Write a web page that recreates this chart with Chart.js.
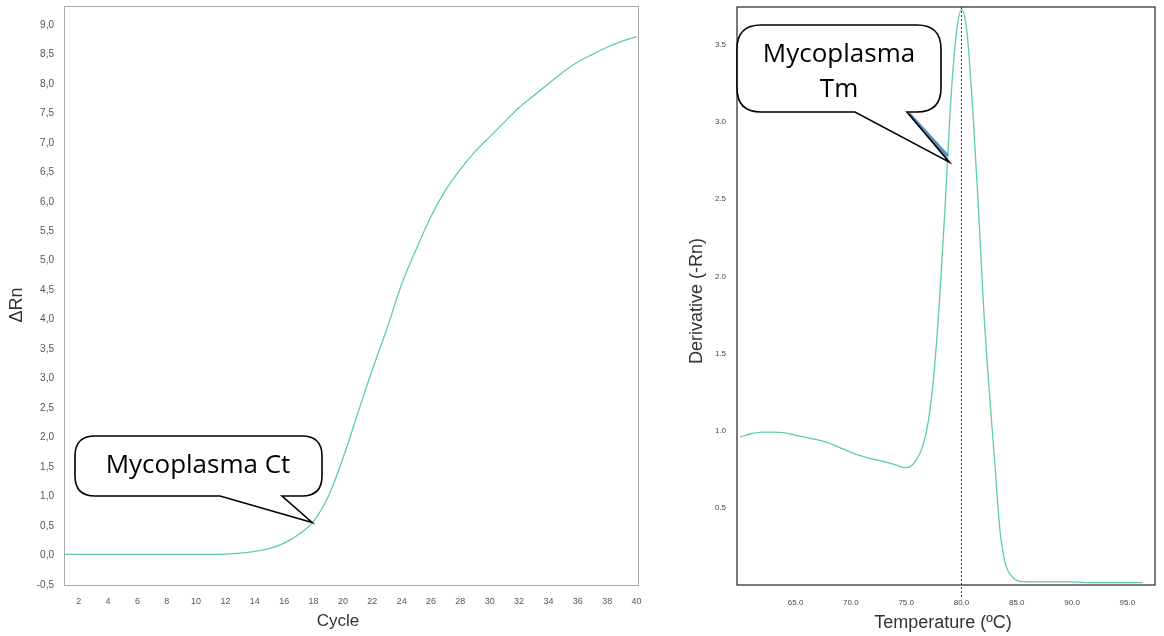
<!DOCTYPE html>
<html>
<head>
<meta charset="utf-8">
<script src="https://cdn.jsdelivr.net/npm/chart.js@4"></script>
<style>
  body { margin: 0; background: #fff; width: 1164px; height: 636px; overflow: hidden; position: relative; }
  canvas { position: absolute; top: 0; }
  #ampChart { left: 0; }
  #meltChart { left: 660px; }
</style>
</head>
<body>
<canvas id="ampChart" width="660" height="636"></canvas>
<canvas id="meltChart" width="504" height="636"></canvas>
<script>
// amplification plot (left)
var cycles = [1,2,3,4,5,6,7,8,9,10,11,12,13,14,15,16,17,18,19,20,21,22,23,24,25,26,27,28,29,30,31,32,33,34,35,36,37,38,39,40];
var deltaRn = [0.02,0.02,0.02,0.02,0.02,0.02,0.02,0.02,0.02,0.02,0.02,0.025,0.04,0.07,0.12,0.21,0.36,0.58,1.0,1.65,
               2.4,3.15,3.85,4.6,5.2,5.75,6.2,6.55,6.85,7.1,7.35,7.6,7.8,8.0,8.2,8.37,8.5,8.62,8.72,8.8];
var ctCycle = 17.9, ctValue = 0.56;

// melt curve (right)
var temps = [60,61,62,63,64,65,66,67,68,69,70,71,72,73,74,74.5,75,75.5,76,76.5,77,77.5,78,78.5,79,79.5,80,
             80.5,81,81.5,82,82.5,83,83.5,84,84.5,85,86,88,90,92,94,96.4];
var derivative = [0.96,0.98,0.99,0.99,0.985,0.97,0.955,0.94,0.92,0.89,0.86,0.835,0.815,0.80,0.78,0.765,0.76,0.775,0.82,0.90,
                  1.06,1.36,1.83,2.43,3.10,3.55,3.73,3.58,3.10,2.49,1.80,1.27,0.80,0.34,0.13,0.06,0.03,0.02,0.02,0.02,0.015,0.015,0.015];
var tmTemp = 80.0;
var tmTipTemp = 78.9, tmTipValue = 2.74;

var lineGreen = '#5fcf97';
var axisFont = 'Arial, "Liberation Sans"';

function bubble(ctx, x, y, w, h, r, t1, t2, tipX, tipY) {
  ctx.beginPath();
  ctx.moveTo(x + r, y);
  ctx.lineTo(x + w - r, y);
  ctx.quadraticCurveTo(x + w, y, x + w, y + r);
  ctx.lineTo(x + w, y + h - r);
  ctx.quadraticCurveTo(x + w, y + h, x + w - r, y + h);
  ctx.lineTo(t2, y + h);
  ctx.lineTo(tipX, tipY);
  ctx.lineTo(t1, y + h);
  ctx.lineTo(x + r, y + h);
  ctx.quadraticCurveTo(x, y + h, x, y + h - r);
  ctx.lineTo(x, y + r);
  ctx.quadraticCurveTo(x, y, x + r, y);
  ctx.closePath();
  ctx.fillStyle = '#fff';
  ctx.fill();
  ctx.strokeStyle = '#000';
  ctx.lineWidth = 1.6;
  ctx.stroke();
}

// axis titles drawn by hand, the reference does not centre them exactly
function axisTitles(ctx, xText, xPos, yText, yPos, size) {
  ctx.fillStyle = '#333';
  ctx.textAlign = 'center';
  ctx.textBaseline = 'middle';
  ctx.font = size[0] + 'px ' + axisFont;
  ctx.fillText(xText, xPos[0], xPos[1]);
  ctx.save();
  ctx.translate(yPos[0], yPos[1]);
  ctx.rotate(-Math.PI / 2);
  ctx.font = size[1] + 'px ' + axisFont;
  ctx.fillText(yText, 0, 0);
  ctx.restore();
}

var ampExtras = {
  id: 'ampExtras',
  afterDraw: function(chart) {
    var ctx = chart.ctx, a = chart.chartArea;
    ctx.save();
    ctx.strokeStyle = '#aaa';
    ctx.lineWidth = 1;
    ctx.strokeRect(a.left + 0.5, a.top + 0.5, a.right - a.left, a.bottom - a.top);
    axisTitles(ctx, 'Cycle', [338, 621], 'ΔRn', [17, 305], [17, 18]);
    var tx = chart.scales.x.getPixelForValue(ctCycle);
    var ty = chart.scales.y.getPixelForValue(ctValue);
    bubble(ctx, 75, 436, 247, 60, 20, 220, 282, tx, ty);
    ctx.fillStyle = '#000';
    ctx.font = '26px "Open Sans"';
    ctx.textAlign = 'center';
    ctx.textBaseline = 'middle';
    ctx.fillText('Mycoplasma Ct', 198, 466);
    ctx.restore();
  }
};

var meltExtras = {
  id: 'meltExtras',
  afterDraw: function(chart) {
    var ctx = chart.ctx, a = chart.chartArea;
    ctx.save();
    var vx = chart.scales.x.getPixelForValue(tmTemp);
    ctx.strokeStyle = '#1d3c6e';
    ctx.lineWidth = 1;
    ctx.setLineDash([2, 2]);
    ctx.beginPath();
    ctx.moveTo(vx, a.top);
    ctx.lineTo(vx, a.bottom + 12);
    ctx.stroke();
    ctx.setLineDash([]);
    ctx.strokeStyle = '#222';
    ctx.lineWidth = 1.2;
    ctx.strokeRect(a.left, a.top, a.right - a.left, a.bottom - a.top);
    axisTitles(ctx, 'Temperature (ºC)', [283, 623], 'Derivative (-Rn)', [37, 301], [18, 18]);
    var tx = chart.scales.x.getPixelForValue(tmTipTemp);
    var ty = chart.scales.y.getPixelForValue(tmTipValue);
    // blue shadow on tail edge
    ctx.strokeStyle = '#5b8fc0';
    ctx.lineWidth = 4;
    ctx.beginPath();
    ctx.moveTo(249, 114);
    ctx.lineTo(tx - 2, ty - 6);
    ctx.stroke();
    bubble(ctx, 77, 25, 204, 87, 24, 195, 247, tx, ty);
    ctx.fillStyle = '#000';
    ctx.font = '26px "Open Sans"';
    ctx.textAlign = 'center';
    ctx.textBaseline = 'middle';
    ctx.fillText('Mycoplasma', 179, 55);
    ctx.fillText('Tm', 179, 90);
    ctx.restore();
  }
};

function fixY(width) {
  return function(s) { s.width = width; s.paddingTop = 0; s.paddingBottom = 0; };
}
function fixX(height) {
  return function(s) { s.height = height; s.paddingLeft = 0; s.paddingRight = 0; };
}

new Chart(document.getElementById('ampChart'), {
  type: 'line',
  data: {
    datasets: [{
      data: cycles.map(function(c, i) { return { x: c, y: deltaRn[i] }; }),
      borderColor: lineGreen,
      borderWidth: 1.3,
      pointRadius: 0,
      tension: 0.4,
      cubicInterpolationMode: 'monotone',
      fill: false
    }]
  },
  options: {
    responsive: false,
    animation: false,
    layout: { padding: { top: 6, right: 22, bottom: 0, left: 0 } },
    plugins: { legend: { display: false }, tooltip: { enabled: false } },
    scales: {
      x: {
        type: 'linear',
        min: 1, max: 40.1,
        grid: { display: false, drawTicks: false },
        border: { display: false },
        ticks: {
          stepSize: 2, includeBounds: false, padding: 11,
          color: '#555', font: { family: axisFont, size: 9 },
          maxRotation: 0, autoSkip: false
        },
        afterFit: fixX(51)
      },
      y: {
        min: -0.5, max: 9.32,
        grid: { display: false, drawTicks: false },
        border: { display: false },
        ticks: {
          stepSize: 0.5, includeBounds: false, padding: 10,
          color: '#555', font: { family: axisFont, size: 10 },
          callback: function(v) { return v.toFixed(1).replace('.', ','); }
        },
        afterFit: fixY(64)
      }
    }
  },
  plugins: [ampExtras]
});

new Chart(document.getElementById('meltChart'), {
  type: 'line',
  data: {
    datasets: [{
      data: temps.map(function(t, i) { return { x: t, y: derivative[i] }; }),
      borderColor: lineGreen,
      borderWidth: 1.3,
      pointRadius: 0,
      tension: 0.4,
      cubicInterpolationMode: 'monotone',
      fill: false
    }]
  },
  options: {
    responsive: false,
    animation: false,
    layout: { padding: { top: 7, right: 9, bottom: 0, left: 0 } },
    plugins: { legend: { display: false }, tooltip: { enabled: false } },
    scales: {
      x: {
        type: 'linear',
        min: 59.7, max: 97.5,
        grid: { display: false, drawTicks: false },
        border: { display: false },
        ticks: {
          stepSize: 5, includeBounds: false, padding: 13,
          color: '#444', font: { family: axisFont, size: 8 },
          maxRotation: 0, autoSkip: false,
          callback: function(v) { return v < 62 ? '' : v.toFixed(1); }
        },
        afterFit: fixX(51)
      },
      y: {
        min: 0, max: 3.745,
        grid: { display: false, drawTicks: false },
        border: { display: false },
        ticks: {
          stepSize: 0.5, includeBounds: false, padding: 11,
          color: '#444', font: { family: axisFont, size: 8 },
          callback: function(v) { return v === 0 ? '' : v.toFixed(1); }
        },
        afterFit: fixY(77)
      }
    }
  },
  plugins: [meltExtras]
});
</script>
</body>
</html>
